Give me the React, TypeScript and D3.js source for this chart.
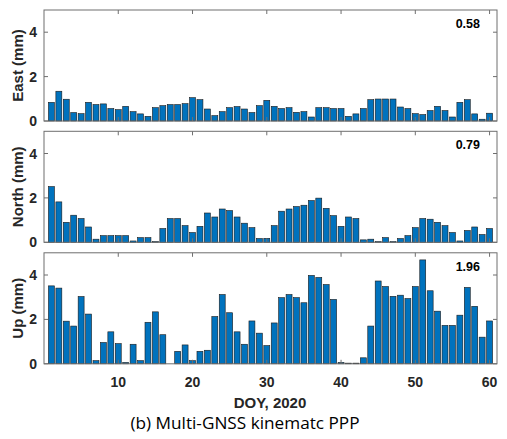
import React from "react";
import * as d3 from "d3";

const days = d3.range(1, 61);
const eastValues = [0.84,1.34,0.98,0.38,0.33,0.84,0.74,0.77,0.56,0.51,0.66,0.42,0.32,0.21,0.60,0.69,0.74,0.74,0.78,1.05,0.96,0.54,0.24,0.42,0.60,0.65,0.54,0.38,0.69,0.93,0.66,0.56,0.60,0.39,0.42,0.18,0.60,0.60,0.56,0.56,0.21,0.32,0.56,0.96,0.99,0.99,0.99,0.63,0.56,0.33,0.29,0.47,0.66,0.47,0.18,0.84,0.96,0.32,0.08,0.35];
const northValues = [2.51,1.82,0.90,1.22,1.07,0.69,0.14,0.30,0.30,0.30,0.30,0.06,0.21,0.21,0.03,0.62,1.07,1.07,0.75,0.44,0.72,1.32,1.14,1.50,1.43,1.14,0.86,0.66,0.17,0.18,0.75,1.40,1.50,1.61,1.67,1.88,1.99,1.53,1.20,0.72,1.14,1.07,0.11,0.14,0.03,0.21,0.03,0.17,0.30,0.66,1.07,1.04,0.90,0.75,0.44,0.06,0.53,0.69,0.35,0.62];
const upValues = [3.51,3.41,1.92,1.70,3.03,2.24,0.14,0.96,1.44,0.91,0.06,0.88,0.14,1.87,2.34,1.31,0,0.56,0.85,0.14,0.56,0.61,2.13,3.12,2.30,1.44,0.88,1.93,1.38,0.82,1.84,2.98,3.12,2.98,2.75,3.98,3.89,3.57,2.90,0.06,0.03,0.03,0.27,1.70,3.73,3.48,3.04,3.09,2.94,3.48,4.68,3.29,2.37,1.73,1.73,2.19,3.44,2.59,1.20,1.93];

const panelLabels = ["East (mm)", "North (mm)", "Up (mm)"];
const panelStats = ["0.58", "0.79", "1.96"];
const panelSeries = [eastValues, northValues, upValues];
const xTicks = [10, 20, 30, 40, 50, 60];
const yTicks = [0, 2, 4];
const xLabel = "DOY, 2020";
const caption = "(b) Multi-GNSS kinematc PPP";

const W = 507, H = 439;
const left = 44, right = 497;
const panelTops = [10, 131.3, 252.8];
const panelH = 111;
const font = "'Liberation Sans', Arial, sans-serif";

export default function App() {
  const x = d3.scaleLinear().domain([0, 61]).range([left, right]);
  const bw = (x(1) - x(0)) * 0.8;
  return (
    <svg width={W} height={H} style={{ position: "absolute", left: 0, top: 0, background: "#fff" }}>
      <rect width={W} height={H} fill="#fff" />
      {panelSeries.map((vals, pi) => {
        const top = panelTops[pi];
        const y = d3.scaleLinear().domain([0, 5]).range([top + panelH, top]);
        const bottom = top + panelH;
        return (
          <g key={pi}>
            {vals.map((v, i) => (
              <rect key={i} x={x(days[i]) - bw / 2} y={y(v)} width={bw} height={Math.max(0, bottom - y(v))}
                fill="#0072BD" stroke="#1a1a1a" strokeWidth={0.6} />
            ))}
            <rect x={left} y={top} width={right - left} height={panelH} fill="none" stroke="#6e6e6e" strokeWidth={1} />
            {xTicks.map((t) => (
              <g key={t}>
                <line x1={x(t)} x2={x(t)} y1={bottom} y2={bottom - 4} stroke="#6e6e6e" />
                <line x1={x(t)} x2={x(t)} y1={top} y2={top + 4} stroke="#6e6e6e" />
              </g>
            ))}
            {yTicks.map((t) => (
              <g key={t}>
                <line x1={left} x2={left + 4} y1={y(t)} y2={y(t)} stroke="#6e6e6e" />
                <line x1={right} x2={right - 4} y1={y(t)} y2={y(t)} stroke="#6e6e6e" />
                <text x={left - 7} y={y(t) + 5} textAnchor="end" fontFamily={font} fontWeight="bold" fontSize={14} fill="#262626">{t}</text>
              </g>
            ))}
            <text transform={`translate(${19},${top + panelH / 2 + 0}) rotate(-90)`} textAnchor="middle" dominantBaseline="middle"
              fontFamily={font} fontWeight="bold" fontSize={15} fill="#262626">{panelLabels[pi]}</text>
            <text x={480} y={top + 18} textAnchor="end" fontFamily={font} fontWeight="bold" fontSize={12.5} fill="#000">{panelStats[pi]}</text>
          </g>
        );
      })}
      {xTicks.map((t) => (
        <text key={t} x={x(t)} y={387} textAnchor="middle" fontFamily={font} fontWeight="bold" fontSize={14} fill="#262626">{t}</text>
      ))}
      <text x={270} y={408} textAnchor="middle" fontFamily={font} fontWeight="bold" fontSize={15} fill="#262626">{xLabel}</text>
      <text x={245} y={429} textAnchor="middle" fontFamily="'Open Sans', sans-serif" fontSize={17.2} fill="#000">{caption}</text>
    </svg>
  );
}
